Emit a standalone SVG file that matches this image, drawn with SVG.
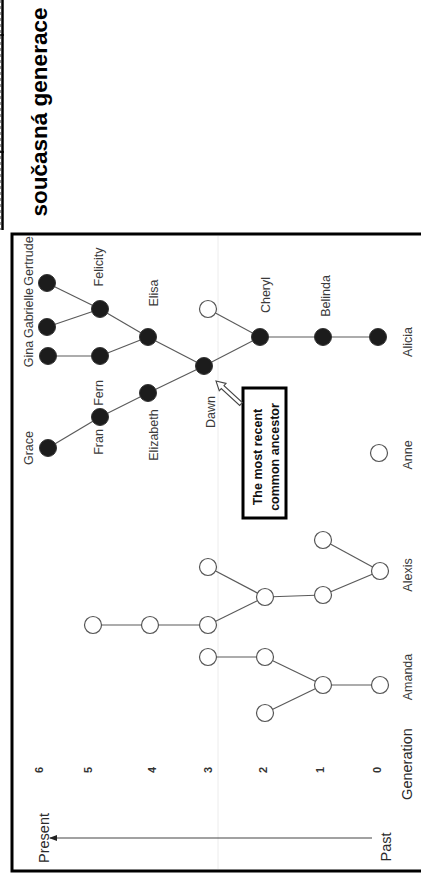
<svg xmlns="http://www.w3.org/2000/svg" width="421" height="877" viewBox="0 0 421 877">
<style>
.nm{font-family:"Liberation Sans",Arial,sans-serif;font-size:12.5px;fill:#3a3a3a;text-anchor:middle}
.ax{font-family:"Liberation Sans",Arial,sans-serif;font-size:14.5px;fill:#2a2a2a;text-anchor:middle}
.dg{font-family:"Liberation Sans",Arial,sans-serif;font-size:11px;font-weight:bold;fill:#333;text-anchor:middle}
.bl{fill:#1c1c1c;stroke:#333;stroke-width:1}
.op{fill:#fff;stroke:#555;stroke-width:1.2}
.ed{stroke:#5a5a5a;stroke-width:1.2;fill:none}
.title{font-family:"Liberation Sans",Arial,sans-serif;font-size:22.5px;font-weight:bold;fill:#000;text-anchor:middle}
.box{font-family:"Liberation Sans",Arial,sans-serif;font-size:12.5px;font-weight:bold;fill:#111;text-anchor:middle}
</style>
<defs>
<marker id="ah" markerWidth="8" markerHeight="6" refX="7" refY="3" orient="auto" markerUnits="userSpaceOnUse">
<path d="M0,0 L8,3 L0,6 Z" fill="#222"/>
</marker>
</defs>
<rect width="421" height="877" fill="#fff"/>
<g id="strip">
<line x1="0.5" y1="0" x2="0.5" y2="230" stroke="#999" stroke-width="1" stroke-dasharray="3,3"/>
<line x1="2.5" y1="0" x2="2.5" y2="230" stroke="#000" stroke-width="2.5"/>
<line x1="0" y1="35" x2="4" y2="35" stroke="#000" stroke-width="1.5"/>
<line x1="0" y1="152" x2="4" y2="152" stroke="#000" stroke-width="1.5"/>
</g>
<g id="title">
<text class="title" transform="translate(47,112) rotate(-90)">současná generace</text>
</g>
<g id="frame">
<line x1="218" y1="236" x2="218" y2="869" stroke="#ececec" stroke-width="1"/>
<path d="M421,234 H12 V871 H421" fill="none" stroke="#000" stroke-width="3"/>
</g>
<g id="connectors">
<line class="ed" x1="48" y1="448" x2="100" y2="417"/>
<line class="ed" x1="48" y1="356" x2="100" y2="356"/>
<line class="ed" x1="47" y1="327" x2="100" y2="309"/>
<line class="ed" x1="47" y1="283" x2="100" y2="309"/>
<line class="ed" x1="100" y1="417" x2="148" y2="393"/>
<line class="ed" x1="100" y1="356" x2="148" y2="337"/>
<line class="ed" x1="100" y1="309" x2="148" y2="337"/>
<line class="ed" x1="148" y1="393" x2="204" y2="366"/>
<line class="ed" x1="148" y1="337" x2="204" y2="366"/>
<line class="ed" x1="204" y1="366" x2="260" y2="337"/>
<line class="ed" x1="208" y1="309" x2="260" y2="337"/>
<line class="ed" x1="260" y1="337" x2="378" y2="337"/>
<line class="ed" x1="380" y1="571" x2="323" y2="540"/>
<line class="ed" x1="380" y1="571" x2="323" y2="595"/>
<line class="ed" x1="323" y1="595" x2="265" y2="597"/>
<line class="ed" x1="265" y1="597" x2="208" y2="567"/>
<line class="ed" x1="265" y1="597" x2="208" y2="625"/>
<line class="ed" x1="208" y1="625" x2="93" y2="625"/>
<line class="ed" x1="380" y1="685" x2="323" y2="685"/>
<line class="ed" x1="323" y1="685" x2="265" y2="657"/>
<line class="ed" x1="323" y1="685" x2="265" y2="713"/>
<line class="ed" x1="265" y1="657" x2="208" y2="657"/>
<line x1="372" y1="838" x2="50" y2="838" stroke="#444" stroke-width="1.2" marker-end="url(#ah)"/>
</g>
<g id="grace"><circle class="bl" cx="48" cy="448" r="8.5"/><text class="nm" transform="translate(33,448) rotate(-90)">Grace</text></g>
<g id="gina"><circle class="bl" cx="48" cy="356" r="8.5"/><text class="nm" transform="translate(33,354) rotate(-90)">Gina</text></g>
<g id="gabrielle"><circle class="bl" cx="47" cy="327" r="8.5"/><text class="nm" transform="translate(33,313) rotate(-90)">Gabrielle</text></g>
<g id="gertrude"><circle class="bl" cx="47" cy="283" r="8.5"/><text class="nm" transform="translate(33,261) rotate(-90)">Gertrude</text></g>
<g id="fran"><circle class="bl" cx="100" cy="417" r="8.5"/><text class="nm" transform="translate(103,442) rotate(-90)">Fran</text></g>
<g id="fern"><circle class="bl" cx="100" cy="356" r="8.5"/><text class="nm" transform="translate(103,393) rotate(-90)">Fern</text></g>
<g id="felicity"><circle class="bl" cx="100" cy="309" r="8.5"/><text class="nm" transform="translate(103,267) rotate(-90)">Felicity</text></g>
<g id="elizabeth"><circle class="bl" cx="148" cy="393" r="8.5"/><text class="nm" transform="translate(158,435) rotate(-90)">Elizabeth</text></g>
<g id="elisa"><circle class="bl" cx="148" cy="337" r="8.5"/><text class="nm" transform="translate(158,293) rotate(-90)">Elisa</text></g>
<g id="dawn"><circle class="bl" cx="204" cy="366" r="8.5"/><text class="nm" transform="translate(215,412) rotate(-90)">Dawn</text></g>
<g id="open-g3"><circle class="op" cx="208" cy="309" r="8.5"/></g>
<g id="cheryl"><circle class="bl" cx="260" cy="337" r="8.5"/><text class="nm" transform="translate(270,295) rotate(-90)">Cheryl</text></g>
<g id="belinda"><circle class="bl" cx="323" cy="337" r="8.5"/><text class="nm" transform="translate(330,296) rotate(-90)">Belinda</text></g>
<g id="alicia"><circle class="bl" cx="378" cy="337" r="8.5"/><text class="nm" transform="translate(412,342) rotate(-90)">Alicia</text></g>
<g id="anne"><circle class="op" cx="379" cy="453" r="8.5"/><text class="nm" transform="translate(412,455) rotate(-90)">Anne</text></g>
<g id="alexis"><circle class="op" cx="380" cy="571" r="8.5"/><text class="nm" transform="translate(412,575) rotate(-90)">Alexis</text></g>
<g id="ax1a"><circle class="op" cx="323" cy="540" r="8.5"/></g>
<g id="ax1b"><circle class="op" cx="323" cy="595" r="8.5"/></g>
<g id="ax2"><circle class="op" cx="265" cy="597" r="8.5"/></g>
<g id="ax3a"><circle class="op" cx="208" cy="567" r="8.5"/></g>
<g id="ax3b"><circle class="op" cx="208" cy="625" r="8.5"/></g>
<g id="ax4"><circle class="op" cx="150" cy="625" r="8.5"/></g>
<g id="ax5"><circle class="op" cx="93" cy="625" r="8.5"/></g>
<g id="amanda"><circle class="op" cx="380" cy="685" r="8.5"/><text class="nm" transform="translate(412,677) rotate(-90)">Amanda</text></g>
<g id="am1"><circle class="op" cx="323" cy="685" r="8.5"/></g>
<g id="am2a"><circle class="op" cx="265" cy="657" r="8.5"/></g>
<g id="am2b"><circle class="op" cx="265" cy="713" r="8.5"/></g>
<g id="am3"><circle class="op" cx="208" cy="657" r="8.5"/></g>
<g id="callout">
<rect x="243" y="388" width="43" height="130" fill="#fff" stroke="#000" stroke-width="3"/>
<text class="box" transform="translate(262,457) rotate(-90)">The most recent</text>
<text class="box" transform="translate(279,457) rotate(-90)">common ancestor</text>
<polygon points="0,0 9,-5 9,-2 34,-2 34,2 9,2 9,5" transform="translate(216,381) rotate(42.6)" fill="#fff" stroke="#444" stroke-width="1.1"/>
</g>
<g id="axis-labels">
<text class="dg" transform="translate(43,770) rotate(-90)">6</text>
<text class="dg" transform="translate(92,770) rotate(-90)">5</text>
<text class="dg" transform="translate(156,770) rotate(-90)">4</text>
<text class="dg" transform="translate(212,770) rotate(-90)">3</text>
<text class="dg" transform="translate(267,770) rotate(-90)">2</text>
<text class="dg" transform="translate(324,770) rotate(-90)">1</text>
<text class="dg" transform="translate(381,770) rotate(-90)">0</text>
<text class="ax" transform="translate(412,764) rotate(-90)">Generation</text>
<text class="ax" transform="translate(49,838) rotate(-90)">Present</text>
<text class="ax" transform="translate(391,847) rotate(-90)">Past</text>
</g>
</svg>
